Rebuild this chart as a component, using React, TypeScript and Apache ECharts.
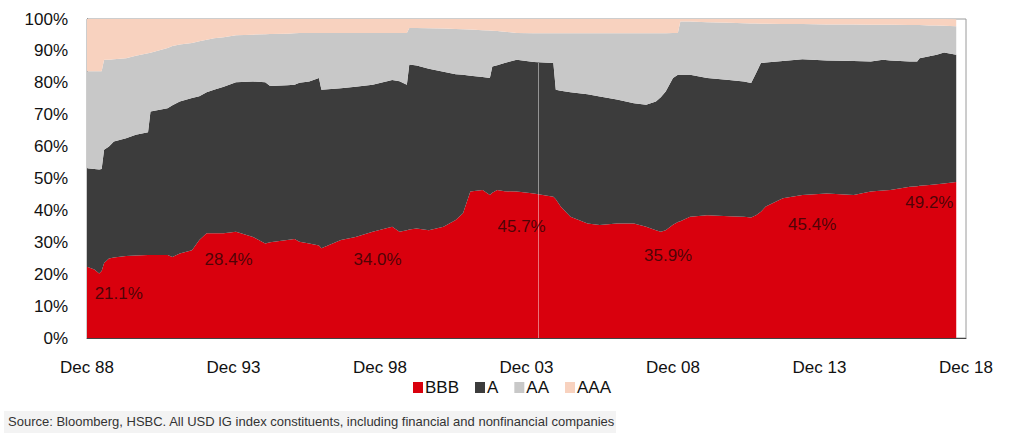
import { useEffect, useRef } from 'react'
import * as echarts from 'echarts'

const months = [
  0, 3, 5, 6, 7, 9, 11, 16, 20, 25, 26, 33, 35, 38, 43, 46, 49, 52, 56, 61,
  68, 73, 75, 82, 85, 87, 91, 95, 96, 104, 110, 117, 125, 128, 131, 132, 135,
  140, 146, 151, 154, 157, 162, 165, 166, 168, 171, 176, 183, 191, 192, 194,
  198, 205, 210, 217, 224, 229, 233, 235, 237, 240, 242, 243, 247, 254, 263,
  269, 272, 274, 276, 278, 285, 293, 303, 314, 321, 326, 329, 337, 340, 341,
  345, 348, 351, 356
]

const bbb = [
  22.3, 21.5, 20.2, 21.0, 23.5, 24.9, 25.2, 25.7, 25.9, 26.0, 26.0, 26.0, 25.4,
  26.5, 27.5, 30.7, 32.8, 32.8, 32.8, 33.3, 31.7, 29.6, 30.0, 30.7, 31.0, 30.2,
  29.6, 29.0, 28.1, 30.7, 31.7, 33.3, 34.9, 33.3, 33.8, 34.0, 34.3, 33.8, 34.9,
  37.0, 39.1, 45.9, 46.4, 44.8, 45.5, 46.4, 46.0, 45.9, 45.3, 44.3, 43.5, 41.2,
  38.0, 35.9, 35.4, 35.9, 35.9, 34.9, 33.8, 33.3, 33.8, 35.5, 36.4, 36.6, 38.0,
  38.5, 38.2, 38.0, 37.8, 38.5, 39.6, 41.2, 43.8, 44.8, 45.3, 44.8, 45.9, 46.2,
  46.4, 47.4, 47.6, 47.7, 48.0, 48.2, 48.4, 48.9
]

const aRated = [
  30.9, 31.5, 32.6, 32.0, 35.5, 35.1, 36.4, 36.9, 37.8, 38.5, 45.0, 46.0, 47.6,
  47.6, 47.7, 45.1, 44.2, 45.0, 46.0, 46.9, 48.7, 50.6, 49.0, 48.5, 48.4, 49.8,
  50.8, 52.5, 49.7, 47.6, 47.1, 46.1, 46.0, 47.2, 45.6, 51.7, 51.1, 50.6, 48.6,
  45.7, 43.4, 36.3, 35.4, 36.7, 39.6, 39.1, 40.2, 41.3, 41.2, 41.9, 34.3, 36.3,
  39.0, 40.5, 40.3, 38.9, 37.7, 38.2, 40.3, 42.2, 43.5, 46.0, 46.1, 45.9, 44.5,
  43.0, 42.7, 42.4, 42.1, 44.5, 46.6, 45.2, 43.0, 42.6, 41.7, 42.0, 40.8, 41.0,
  40.6, 39.3, 39.1, 40.0, 40.3, 40.6, 41.1, 39.9
]

const aa = [
  30.4, 30.6, 30.8, 30.6, 28.2, 27.2, 25.8, 25.1, 24.8, 24.8, 18.4, 18.9, 18.5,
  17.9, 17.3, 17.2, 16.5, 16.2, 15.5, 14.7, 14.7, 15.0, 16.3, 16.2, 16.1, 15.6,
  15.2, 14.1, 17.8, 17.3, 16.8, 16.2, 14.7, 15.1, 16.2, 11.5, 11.8, 12.7, 13.5,
  14.2, 14.3, 14.5, 14.7, 14.9, 11.2, 10.7, 9.8, 8.4, 9.0, 9.3, 17.7, 18.0,
  18.5, 19.1, 19.8, 20.7, 21.9, 22.4, 21.4, 20.0, 18.2, 14.1, 13.1, 16.7, 16.7,
  17.5, 17.9, 18.3, 18.7, 15.6, 12.3, 12.1, 11.6, 11.0, 11.3, 11.5, 11.5, 11.0,
  11.2, 11.4, 11.4, 10.4, 9.7, 9.2, 8.4, 8.9
]

const aaa = [
  16.4, 16.4, 16.4, 16.4, 12.8, 12.8, 12.6, 12.3, 11.5, 10.7, 10.6, 9.1, 8.5,
  8.0, 7.5, 7.0, 6.5, 6.0, 5.7, 5.1, 4.9, 4.8, 4.7, 4.6, 4.5, 4.4, 4.4, 4.4,
  4.4, 4.4, 4.4, 4.4, 4.4, 4.4, 4.4, 2.8, 2.8, 2.9, 3.0, 3.1, 3.2, 3.3, 3.5,
  3.6, 3.7, 3.8, 4.0, 4.4, 4.5, 4.5, 4.5, 4.5, 4.5, 4.5, 4.5, 4.5, 4.5, 4.5,
  4.5, 4.5, 4.5, 4.4, 4.4, 0.8, 0.8, 1.0, 1.2, 1.3, 1.4, 1.4, 1.5, 1.5, 1.6,
  1.6, 1.7, 1.7, 1.8, 1.8, 1.8, 1.9, 1.9, 1.9, 2.0, 2.0, 2.1, 2.2
]

const tickLabels = ['Dec 88', 'Dec 93', 'Dec 98', 'Dec 03', 'Dec 08', 'Dec 13', 'Dec 18']

const callouts = [
  { month: 13, level: 14, text: '21.1%' },
  { month: 58, level: 24.7, text: '28.4%' },
  { month: 119, level: 24.7, text: '34.0%' },
  { month: 178, level: 35.1, text: '45.7%' },
  { month: 238, level: 26, text: '35.9%' },
  { month: 297, level: 35.7, text: '45.4%' },
  { month: 345, level: 42.6, text: '49.2%' }
]

// thin gap line in the source data
const gapMonth = 185

const font = '"Liberation Sans Narrow", "Arial Narrow", "Liberation Sans", Arial, sans-serif'

const colors = {
  BBB: '#d9000d',
  A: '#3c3c3c',
  AA: '#c8c8c8',
  AAA: '#f8d2bf'
}

function RatingMixChart() {
  const chartRef = useRef<HTMLDivElement>(null)

  useEffect(() => {
    if (!chartRef.current) return
    const chart = echarts.init(chartRef.current, undefined, { renderer: 'svg' })

    const gapIdx = months.findIndex((m) => m >= gapMonth)
    const gapTop = bbb[gapIdx] + aRated[gapIdx]

    // share first so the stack runs on the y dimension
    const area = (name: keyof typeof colors, values: number[]) => ({
      name,
      type: 'line',
      stack: 'rating',
      symbol: 'none',
      encode: { x: 1, y: 0 },
      data: months.map((m, i) => [values[i], m]),
      lineStyle: { width: 0 },
      itemStyle: { color: colors[name] },
      areaStyle: { color: colors[name], opacity: 1 }
    })

    chart.setOption({
      animation: false,
      textStyle: { fontFamily: font },
      grid: {
        left: 87,
        right: 58,
        top: 19,
        bottom: 110,
        show: true,
        borderColor: '#9a9a9a',
        borderWidth: 1
      },
      legend: {
        data: ['BBB', 'A', 'AA', 'AAA'],
        top: 374,
        left: 'center',
        icon: 'rect',
        itemWidth: 10,
        itemHeight: 11,
        itemGap: 16,
        textStyle: { fontSize: 17, color: '#111', fontFamily: font, padding: [0, 0, 0, -3] }
      },
      xAxis: {
        type: 'value',
        min: 0,
        max: 360,
        interval: 60,
        axisLine: { lineStyle: { color: '#444' } },
        axisTick: { show: false },
        splitLine: { show: false },
        axisLabel: {
          fontSize: 17,
          color: '#111',
          margin: 21,
          formatter: (v: number) => tickLabels[Math.round(v / 60)] ?? ''
        }
      },
      yAxis: {
        type: 'value',
        min: 0,
        max: 100,
        interval: 10,
        axisLine: { show: true, lineStyle: { color: '#555' } },
        axisTick: { show: false },
        splitLine: { show: false },
        axisLabel: { fontSize: 17, color: '#111', margin: 19, formatter: '{value}%' }
      },
      series: [
        area('BBB', bbb),
        area('A', aRated),
        area('AA', aa),
        area('AAA', aaa),
        {
          name: 'callouts',
          type: 'scatter',
          symbolSize: 1,
          itemStyle: { color: 'transparent' },
          z: 5,
          data: callouts.map((c) => ({ value: [c.month, c.level], name: c.text })),
          label: {
            show: true,
            position: 'inside',
            formatter: '{b}',
            fontSize: 17,
            color: '#2a0505',
            fontFamily: font
          },
          markLine: {
            silent: true,
            symbol: 'none',
            label: { show: false },
            lineStyle: { color: 'rgba(255,255,255,0.45)', width: 1, type: 'solid' },
            data: [[{ coord: [gapMonth, 0] }, { coord: [gapMonth, gapTop] }]]
          }
        }
      ],
      graphic: [
        {
          type: 'rect',
          left: 4,
          top: 411,
          shape: { width: 612, height: 22 },
          style: { fill: '#f3f3f3' }
        },
        {
          type: 'text',
          left: 8,
          top: 415,
          style: {
            text: 'Source: Bloomberg, HSBC. All USD IG index constituents, including financial and nonfinancial companies',
            font: `13px ${font}`,
            fill: '#333'
          }
        }
      ]
    })

    return () => chart.dispose()
  }, [])

  return (
    <div
      ref={chartRef}
      style={{ position: 'fixed', left: 0, top: 0, width: 1024, height: 448, background: '#fff' }}
    />
  )
}

export default function App() {
  return <RatingMixChart />
}
